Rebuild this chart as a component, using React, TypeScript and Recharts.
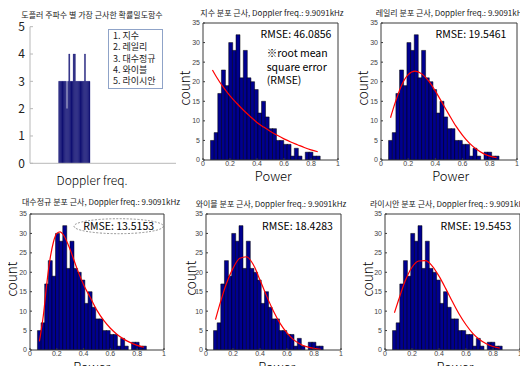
import React from 'react';
import { ComposedChart, BarChart, Bar, Line, XAxis, YAxis } from 'recharts';

const FONT = '"Noto Sans CJK KR", "Noto Sans", sans-serif';
const TICK_FONT = '"Liberation Sans", Arial, sans-serif';

// histogram of Power (same in all five fits)
const binCenters = [
  0.069, 0.096, 0.123, 0.15, 0.177, 0.204, 0.231, 0.258, 0.285, 0.312,
  0.339, 0.366, 0.393, 0.42, 0.447, 0.474, 0.501, 0.528, 0.555, 0.582,
  0.609, 0.636, 0.663, 0.69, 0.717, 0.744, 0.771, 0.798, 0.825, 0.852,
];
const binCounts = [
  5, 7, 17, 23, 19, 30, 28, 32, 21, 28,
  21, 20, 18, 12, 15, 11, 8, 8, 5, 5,
  4, 4, 1, 3, 1, 0, 2, 2, 1, 1,
];

// fitted pdf curves (scaled to counts)
const fitX = [0.07, 0.1, 0.15, 0.2, 0.25, 0.3, 0.35, 0.4, 0.45, 0.5, 0.55, 0.6, 0.65, 0.7, 0.75, 0.8, 0.85];
const expFit = [23, 21.2, 18.6, 16.4, 14.5, 12.7, 11.1, 9.6, 8.4, 7.3, 6.3, 5.4, 4.6, 3.9, 3.2, 2.6, 2.1];
const rayleighFit = [10.8, 14.2, 19, 21.8, 22.7, 22, 20.2, 17.6, 14.6, 11.6, 8.7, 6.3, 4.3, 2.8, 1.7, 1.0, 0.6];
const weibullFit = [7.8, 11.5, 17, 21, 23.6, 24, 22, 18, 13.8, 10, 6.8, 4.4, 2.6, 1.5, 0.8, 0.4, 0.2];
const ricianFit = [9.6, 12.8, 17.8, 21.3, 22.9, 23, 21.6, 19, 15.8, 12.4, 9.2, 6.5, 4.3, 2.7, 1.6, 0.9, 0.5];
const logX = [0.07, 0.1, 0.125, 0.15, 0.175, 0.2, 0.225, 0.25, 0.3, 0.35, 0.4, 0.45, 0.5, 0.55, 0.6, 0.65, 0.7, 0.75, 0.8, 0.85];
const lognormFit = [2.2, 9, 17, 23.5, 27.8, 30, 30.4, 29.6, 25.8, 21, 16.8, 13.5, 10.2, 7.6, 5.6, 4.0, 2.8, 1.9, 1.2, 0.7];

const powerTicks = [0, 0.2, 0.4, 0.6, 0.8, 1];
const countTicks = [0, 5, 10, 15, 20, 25, 30, 35];

// best-fit pdf index per Doppler frequency
const dopplerIdx = [
  26, 27, 28, 29, 30, 31, 32, 33, 34, 35, 36, 37, 38, 39,
  40, 41, 42, 43, 44, 45, 46, 47, 48, 49, 50, 51, 52, 53,
];
const bestFit = [
  3, 3, 3, 3, 3, 3, 3, 2, 3, 4, 3, 3, 3, 4,
  4, 3, 3, 3, 3, 3, 3, 3, 3, 4, 3, 3, 3, 3,
];
const dopplerTicks = [0, 25, 50, 75, 100, 125];
const fitIndexTicks = [0, 1, 2, 3, 4, 5];
const legendItems = ['1. 지수', '2. 레일리', '3. 대수정규', '4. 와이블', '5. 라이시안'];

const histData = binCenters.map((x, i) => ({ x, count: binCounts[i] }));
const toPts = (xs: number[], ys: number[]) => xs.map((x, i) => ({ x, y: ys[i] }));

const Txt = ({ x, y, size, children, anchor = 'middle', rotate = false, color = '#000', weight = 400 }: any) => (
  <div
    style={{
      position: 'absolute',
      left: x,
      top: y,
      transform: `translate(${anchor === 'middle' ? '-50%' : '0'}, -50%)${rotate ? ' rotate(-90deg)' : ''}`,
      fontSize: size,
      fontFamily: FONT,
      fontWeight: weight,
      color,
      whiteSpace: 'nowrap',
      lineHeight: 1,
    }}
  >
    {children}
  </div>
);

const frame = '#3a3a3a';
const tickStyle = { fontSize: 7, fill: '#444', fontFamily: TICK_FONT };

const HistPanel = ({ left, top, w, h, fit }: { left: number; top: number; w: number; h: number; fit: { x: number; y: number }[] }) => (
  <div style={{ position: 'absolute', left: left - 30, top: top - 6 }}>
    <ComposedChart width={w + 36} height={h + 22} data={histData} barCategoryGap={0} margin={{ top: 0, right: 0, bottom: 0, left: 0 }}>
      <XAxis xAxisId="b" dataKey="x" type="number" domain={[0, 1]} allowDataOverflow ticks={powerTicks}
        height={16} tickSize={-2} tickMargin={3} stroke={frame} tick={tickStyle} interval={0} />
      <XAxis xAxisId="t" orientation="top" dataKey="x" type="number" domain={[0, 1]} allowDataOverflow ticks={powerTicks}
        height={6} tickSize={-2} tick={false} stroke={frame} interval={0} />
      <XAxis xAxisId="fit" dataKey="x" type="number" domain={[0, 1]} allowDataOverflow hide />
      <YAxis yAxisId="l" type="number" domain={[0, 35]} allowDataOverflow ticks={countTicks}
        width={30} tickSize={-2} tickMargin={5} stroke={frame} tick={tickStyle} interval={0} />
      <YAxis yAxisId="r" orientation="right" type="number" domain={[0, 35]} allowDataOverflow ticks={countTicks}
        width={6} tickSize={-2} tick={false} stroke={frame} interval={0} />
      <Bar xAxisId="b" yAxisId="l" dataKey="count" fill="#00008f" stroke="#000" strokeWidth={0.5}
        isAnimationActive={false} />
      <Line xAxisId="fit" yAxisId="l" data={fit} dataKey="y" type="monotone" stroke="#ff0000" strokeWidth={1.2}
        dot={false} isAnimationActive={false} />
    </ComposedChart>
  </div>
);

const App = () => {
  const bestData = dopplerIdx.map((d, i) => ({ d, v: bestFit[i] }));
  return (
    <div style={{ position: 'relative', width: 528, height: 374, margin: -8, background: '#fff', overflow: 'hidden' }}>
      {/* panel 1: best pdf per Doppler frequency */}
      <div style={{ position: 'absolute', left: 0, top: 10 }}>
        <BarChart width={180} height={170} data={bestData} barCategoryGap={0} margin={{ top: 16.7, right: 4, bottom: 0, left: 0 }}>
          <XAxis dataKey="d" type="number" domain={[0, 130]} allowDataOverflow ticks={dopplerTicks} height={16.7}
            tickSize={-3} tick={false} stroke="#b8b8b8" interval={0} />
          <YAxis type="number" domain={[0, 5]} allowDataOverflow ticks={fitIndexTicks} width={30} tickSize={-3} tickMargin={8}
            stroke="#b8b8b8" tick={{ fontSize: 12, fill: '#222', fontFamily: FONT }} interval={0} />
          <Bar dataKey="v" fill="#08086a" stroke="#1c1c80" strokeWidth={0.35} isAnimationActive={false} />
        </BarChart>
      </div>
      <div style={{ position: 'absolute', left: 108, top: 29, width: 55, height: 60, border: '1px solid #8fa3c8', background: '#fff', boxSizing: 'border-box' }} />
      {legendItems.map((t, i) => (
        <Txt key={t} x={113} y={35 + i * 11.3} size={9} anchor="start" color="#222">{t}</Txt>
      ))}

      <HistPanel left={203} top={23} w={135} h={137} fit={toPts(fitX, expFit)} />
      <HistPanel left={381} top={23} w={136} h={137} fit={toPts(fitX, rayleighFit)} />
      <HistPanel left={30} top={214} w={134} h={136} fit={toPts(logX, lognormFit)} />
      <HistPanel left={206} top={214} w={135} h={136} fit={toPts(fitX, weibullFit)} />
      <HistPanel left={384.5} top={214} w={135} h={136} fit={toPts(fitX, ricianFit)} />

      {/* titles */}
      <Txt x={92} y={15} size={8} color="#222">도플러 주파수 별 가장 근사한 확률밀도함수</Txt>
      <Txt x={272} y={12.7} size={8} color="#222">지수 분포 근사, Doppler freq.: 9.9091kHz</Txt>
      <Txt x={451} y={12.7} size={8} color="#222">레일리 분포 근사, Doppler freq.: 9.9091kHz</Txt>
      <Txt x={101} y={202} size={8} color="#222">대수정규 분포 근사, Doppler freq.: 9.9091kHz</Txt>
      <Txt x={271} y={203.7} size={8} color="#222">와이블 분포 근사, Doppler freq.: 9.9091kHz</Txt>
      <Txt x={449} y={203.7} size={8} color="#222">라이시안 분포 근사, Doppler freq.: 9.9091kHz</Txt>

      {/* axis labels */}
      <Txt x={92} y={179.5} size={12} weight={300}>Doppler freq.</Txt>
      {[
        [273.3, 174.5, 185, 87.5],
        [450.7, 174.5, 363.3, 87.5],
        [91.7, 365.5, 11.7, 279],
        [276.7, 365.5, 190.7, 278],
        [455, 365.5, 368.3, 279],
      ].map(([px, py, cx, cy], i) => (
        <React.Fragment key={i}>
          <Txt x={px} y={py} size={13} weight={300}>Power</Txt>
          <Txt x={cx} y={cy} size={13.5} weight={300} rotate>count</Txt>
        </React.Fragment>
      ))}

      {/* RMSE notes */}
      <Txt x={296} y={34.3} size={10.5}>RMSE: 46.0856</Txt>
      <Txt x={266.7} y={53.3} size={10.5} anchor="start">※root mean</Txt>
      <Txt x={266.7} y={66.7} size={10.5} anchor="start">square error</Txt>
      <Txt x={266.7} y={80} size={10.5} anchor="start">(RMSE)</Txt>
      <Txt x={471} y={34.3} size={10.5}>RMSE: 19.5461</Txt>
      <Txt x={118.7} y={226} size={10.5}>RMSE: 13.5153</Txt>
      <Txt x={297.5} y={226} size={10.5}>RMSE: 18.4283</Txt>
      <Txt x={476} y={226} size={10.5}>RMSE: 19.5453</Txt>
      <svg width={528} height={374} style={{ position: 'absolute', left: 0, top: 0, pointerEvents: 'none' }}>
        <ellipse cx={118.7} cy={226.2} rx={44.7} ry={7.5} fill="none" stroke="#777" strokeWidth={0.8} strokeDasharray="2 1.5" />
      </svg>
    </div>
  );
};

export default App;
